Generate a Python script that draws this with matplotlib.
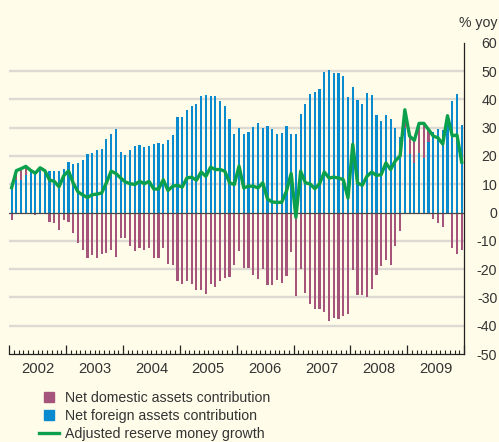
import matplotlib

matplotlib.use("Agg")
import matplotlib.pyplot as plt
import matplotlib.transforms as mtransforms
import numpy as np
from matplotlib.legend_handler import HandlerPatch
from matplotlib.lines import Line2D
from matplotlib.patches import Patch, Rectangle

plt.rcParams["font.family"] = ["Liberation Sans", "DejaVu Sans"]
plt.rcParams["axes.unicode_minus"] = False

# monthly data, Jan 2002 .. Dec 2009 (% yoy, percentage points)
START_YEAR = 2002
YEARS = ["2002", "2003", "2004", "2005", "2006", "2007", "2008", "2009"]

foreign = [
    10.6, 11.5, 11.6, 13.3, 14.2, 13.9, 14.5, 14.6, 14.5, 14.5, 14.5, 15.5,
    17.9, 17.2, 17.6, 18.7, 20.8, 21.1, 22.0, 22.3, 25.9, 27.9, 29.5, 21.5,
    20.3, 22.0, 23.4, 23.8, 23.0, 23.6, 24.1, 24.5, 24.1, 25.5, 27.3, 33.7,
    33.7, 36.2, 37.5, 38.4, 41.1, 41.6, 41.1, 41.1, 39.5, 37.5, 33.0, 27.9,
    29.7, 27.6, 28.5, 30.3, 31.8, 29.9, 30.4, 29.4, 27.6, 28.2, 30.7, 27.9,
    27.6, 34.7, 38.2, 41.8, 42.5, 43.5, 49.7, 50.3, 49.3, 49.2, 48.4, 40.8,
    44.2, 39.7, 38.2, 42.1, 41.4, 34.3, 32.2, 34.3, 32.9, 29.7, 26.6, 30.0,
    20.6, 17.4, 21.0, 19.2, 24.9, 28.6, 29.4, 29.0, 34.2, 39.4, 41.8, 30.8,
]

domestic = [
    -2.6, 3.2, 3.6, 2.6, 0.0, -0.7, 1.2, 0.0, -3.2, -3.6, -6.2, -2.6,
    -3.3, -7.1, -10.9, -13.3, -16.0, -15.1, -16.0, -14.5, -14.3, -13.3, -15.7, -8.9,
    -8.9, -11.8, -13.5, -12.5, -13.3, -12.4, -16.0, -16.0, -12.5, -18.2, -18.4, -24.2,
    -25.2, -24.2, -25.2, -27.3, -27.2, -28.7, -25.2, -26.4, -24.2, -23.2, -22.8, -18.4,
    -13.5, -19.6, -19.6, -21.9, -23.5, -20.1, -25.5, -25.5, -23.8, -24.8, -22.4, -14.1,
    -29.6, -20.1, -28.4, -32.3, -34.1, -34.1, -35.3, -38.2, -37.1, -37.6, -36.5, -35.9,
    -20.4, -29.1, -29.0, -29.7, -27.0, -21.9, -19.0, -16.9, -18.6, -11.8, -6.4, 6.6,
    6.4, 7.9, 10.0, 12.0, 4.3, -2.2, -3.6, -5.0, 0.0, -12.5, -14.5, -13.1,
]

reserve = [
    8.8, 14.8, 15.5, 16.3, 14.9, 13.9, 15.8, 14.8, 11.5, 11.0, 9.1, 13.0,
    14.7, 10.4, 7.3, 6.2, 5.3, 6.3, 6.5, 6.9, 10.5, 14.6, 13.8, 12.2,
    10.8, 10.2, 9.9, 11.0, 10.2, 11.0, 8.3, 8.3, 11.6, 7.8, 9.3, 9.6,
    9.0, 12.2, 12.5, 11.4, 14.3, 12.8, 16.0, 15.2, 15.2, 14.6, 10.5, 9.9,
    16.4, 8.7, 9.3, 9.3, 8.7, 10.5, 4.8, 3.7, 3.6, 3.6, 7.5, 13.8,
    -1.7, 14.6, 10.5, 10.1, 8.4, 10.2, 14.3, 12.2, 12.5, 12.2, 11.6, 5.1,
    24.1, 10.5, 9.6, 12.8, 14.3, 13.1, 13.4, 17.5, 15.2, 18.3, 20.0, 36.3,
    27.0, 25.5, 31.5, 31.5, 29.3, 27.0, 26.4, 24.2, 34.2, 27.1, 27.4, 17.8,
]

YTICKS = list(range(-50, 61, 10))

BG = "#fffce9"
BLUE = "#0a8bd0"
RED = "#a5557c"
GREEN = "#0aa04c"
TXT = "#333333"
FS = 10.2

fig = plt.figure(figsize=(4.99, 4.42), dpi=100, facecolor=BG)
ax = fig.add_axes([0.0186, 0.199, 0.9114, 0.7044])
ax.set_facecolor(BG)

n = len(foreign)
x = START_YEAR + (np.arange(n) + 0.5) / 12
fore = np.array(foreign)
dom = np.array(domestic)
width = 0.46 / 12

for v in YTICKS:
    if v not in (0, 60, -50):
        ax.axhline(v, color="#dcdad2", lw=1.7, zorder=0)

ax.bar(x, fore, width=width, color=BLUE, zorder=2)
ax.bar(x, dom, width=width, bottom=np.where(dom > 0, fore, 0), color=RED, zorder=2)
ax.axhline(0, color="#4a4a4a", lw=0.9, zorder=3)
ax.plot(x, reserve, color=GREEN, lw=2.4, zorder=4, solid_joinstyle="round")

ax.set_xlim(START_YEAR, START_YEAR + len(YEARS))
ax.set_ylim(-50, 60)

for s in ("top", "left"):
    ax.spines[s].set_visible(False)
ax.spines["right"].set_color("#222222")
ax.spines["bottom"].set_color("#222222")
ax.spines["right"].set_linewidth(0.9)
ax.spines["bottom"].set_linewidth(0.9)

ax.yaxis.tick_right()
ax.set_yticks(YTICKS)
ax.set_yticklabels([str(v) for v in YTICKS])
ax.tick_params(axis="y", length=0, pad=23.8, labelsize=FS, labelcolor=TXT)
for lab in ax.get_yticklabels():
    lab.set_horizontalalignment("right")

ax.set_xticks(np.arange(START_YEAR, START_YEAR + len(YEARS) + 1))
ax.set_xticks(START_YEAR + np.arange(len(YEARS) * 12 + 1) / 12, minor=True)
ax.set_xticklabels([])
ax.tick_params(axis="x", which="major", direction="in", length=6.5, width=0.9, color="#222222")
ax.tick_params(axis="x", which="minor", direction="in", length=3.2, width=0.8, color="#222222")

trans = mtransforms.blended_transform_factory(ax.transData, ax.transAxes)
for k, yr in enumerate(YEARS):
    ax.text(START_YEAR + k + 0.5, -0.047, yr, transform=trans, ha="center", va="center",
            fontsize=10.6, color=TXT)

fig.text(0.996, 0.948, "% yoy", ha="right", va="center", fontsize=FS, color=TXT)


def square(legend, orig_handle, xdescent, ydescent, width, height, fontsize):
    s = 7.4
    return Rectangle((-xdescent + (width - s) / 2, -ydescent + (height - s) / 2), s, s)


handles = [
    Patch(color=RED, label="Net domestic assets contribution"),
    Patch(color=BLUE, label="Net foreign assets contribution"),
    Line2D([], [], color=GREEN, lw=2.4, label="Adjusted reserve money growth"),
]
fig.legend(handles=handles, loc="upper left", bbox_to_anchor=(0.078, 0.116),
           frameon=False, fontsize=FS, handlelength=1.45, handletextpad=0.4,
           labelspacing=0.28, borderpad=0, borderaxespad=0,
           handler_map={Patch: HandlerPatch(patch_func=square)}, labelcolor=TXT)

fig.savefig("out.png", dpi=100, facecolor=BG)
